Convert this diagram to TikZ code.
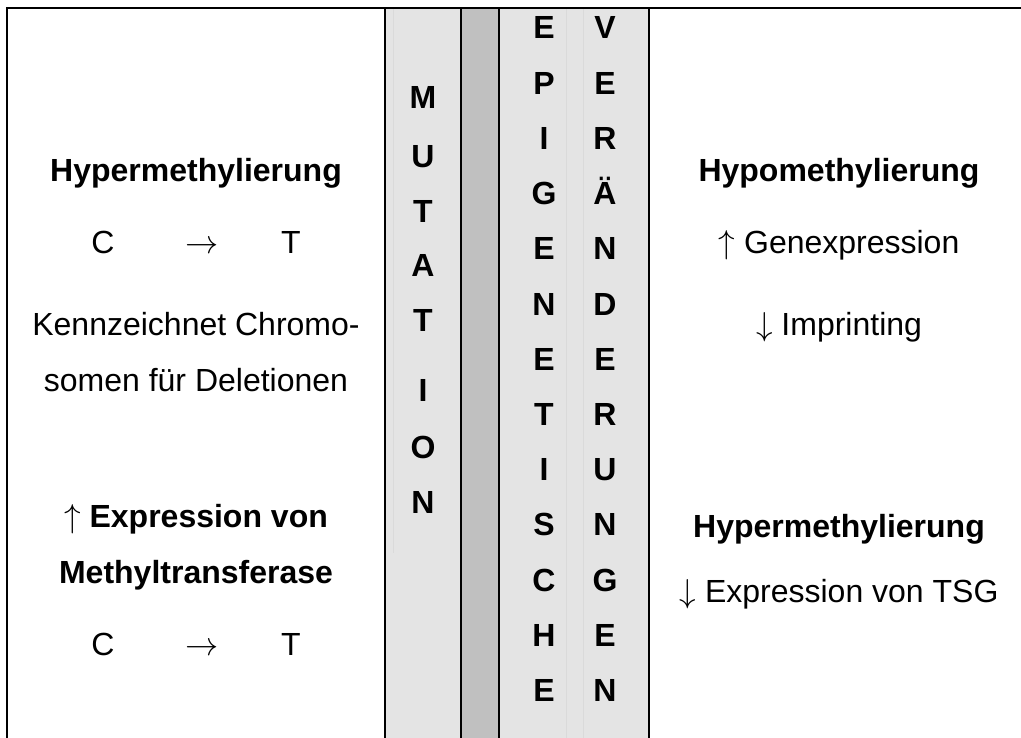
\documentclass[tikz,border=0pt]{standalone}
\usepackage{fontspec}
\setmainfont{Liberation Sans}
\definecolor{lightfill}{HTML}{E4E4E4}
\definecolor{darkfill}{HTML}{C0C0C0}
\definecolor{faintline}{HTML}{DADADA}
\begin{document}
\begin{tikzpicture}[x=0.75pt,y=-0.75pt,
  txt/.style={font=\fontsize{24}{28}\selectfont, anchor=base, inner sep=0pt},
  btxt/.style={font=\fontsize{24}{28}\selectfont\bfseries, anchor=base, inner sep=0pt},
  rule/.style={line width=1.5pt, line cap=rect},
  faint/.style={draw=faintline, line width=0.5pt}]
\useasboundingbox (0,0) rectangle (1021,738);
% column fills
\fill[lightfill] (385,8) rectangle (461,738);
\fill[darkfill] (461,8) rectangle (499,738);
\fill[lightfill] (499,8) rectangle (649,738);
\draw[faint] (393,8) -- (393,553);
\draw[faint] (566,8) -- (566,738);
\draw[faint] (583,8) -- (583,738);
% frame lines
\draw[rule] (7,738) -- (7,8) -- (1021,8);
\draw[rule] (385,8) -- (385,738);
\draw[rule] (461,8) -- (461,738);
\draw[rule] (499,8) -- (499,738);
\draw[rule] (649,8) -- (649,738);
% MUTATION
\foreach \l/\y [count=\i] in {M/109,U/168,T/223,A/276,T/331,I/401,O/458,N/513}
  \node[btxt] (mut\i) at (423,\y) {\l};
% EPIGENETISCHE
\foreach \l [count=\i] in {E,P,I,G,E,N,E,T,I,S,C,H,E}
  \node[btxt] (epi\i) at (544,{39+55.2*(\i-1)}) {\l};
% VERÄNDERUNGEN
\foreach \l [count=\i] in {V,E,R,Ä,N,D,E,R,U,N,G,E,N}
  \node[btxt] (ver\i) at (605,{39+55.2*(\i-1)}) {\l};
% left column
\node[btxt] (lhyper) at (196,182) {Hypermethylierung};
\node[txt] (lc1) at (103,253) {C};
\node[txt] (la1) at (202,253) {$\rightarrow$};
\node[txt] (lt1) at (291,253) {T};
\node[txt] (lk1) at (196,335) {Kennzeichnet Chromo-};
\node[txt] (lk2) at (196,391) {somen für Deletionen};
\node[btxt] (lexp1) at (196,527) {$\uparrow$ Expression von};
\node[btxt] (lexp2) at (196,583) {Methyltransferase};
\node[txt] (lc2) at (103,655) {C};
\node[txt] (la2) at (202,655) {$\rightarrow$};
\node[txt] (lt2) at (291,655) {T};
% right column
\node[btxt] (rhypo) at (839,182) {Hypomethylierung};
\node[txt] (rgen) at (839,253) {$\uparrow$ Genexpression};
\node[txt] (rimp) at (839,335) {$\downarrow$ Imprinting};
\node[btxt] (rhyper) at (839,537) {Hypermethylierung};
\node[txt] (rtsg) at (839,602) {$\downarrow$ Expression von TSG};
\end{tikzpicture}
\end{document}
